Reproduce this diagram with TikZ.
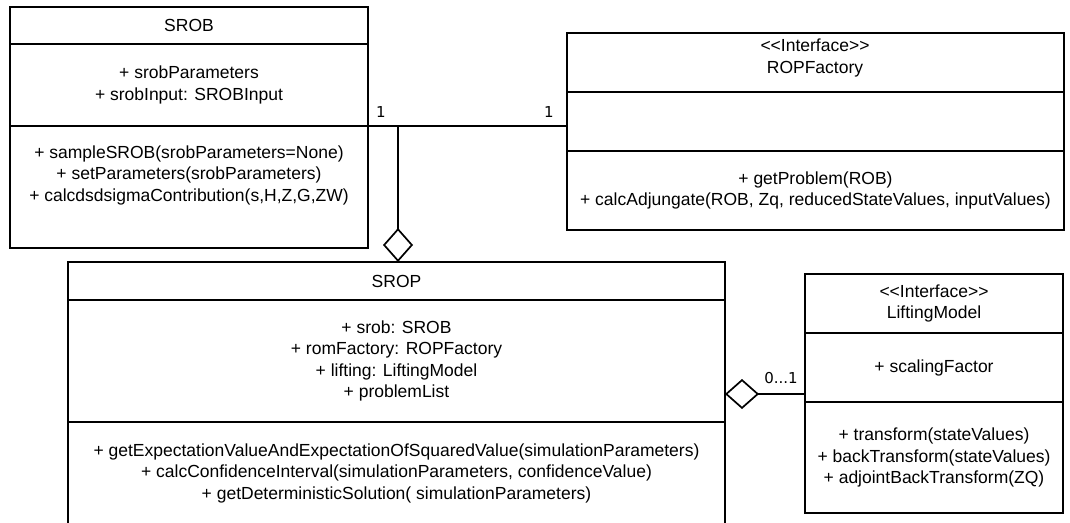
\documentclass[tikz,border=0pt]{standalone}
\usepackage{fontspec}
\setmainfont{Liberation Sans}
\newfontfamily\multfont{DejaVu Sans}
\usetikzlibrary{calc}
\usetikzlibrary{positioning}
\usetikzlibrary{arrows.meta}

\tikzset{
  part/.style={draw, line width=1.7pt, inner sep=0pt, outer sep=0pt,
    minimum height=#1, align=center, font=\fontsize{17.5}{21.5}\selectfont},
  txt/.style={align=center, inner sep=0pt, font=\fontsize{17.5}{21.5}\selectfont},
  mult/.style={inner sep=0pt, font=\multfont\fontsize{15}{17}\selectfont},
  link/.style={line width=1.7pt},
  aggr/.style={line width=1.7pt, -{Diamond[open, length=34pt, width=30pt, line width=1.7pt]}},
}

\begin{document}
\begin{tikzpicture}[x=1pt, y=-1pt]
      \useasboundingbox (0,0) rectangle (1070,522);
      \clip (0,0) rectangle (1070,522);

      % SROB
      \node[part=37pt, minimum width=358pt, anchor=north west] (srobHead) at (10,7) {SROB};
      \node[part=82pt, minimum width=358pt, below=0pt of srobHead] (srobAttr)
        {+ srobParameters\\+ srobInput: SROBInput};
      \node[part=122pt, minimum width=358pt, below=0pt of srobAttr] (srobOps) {};
      \node[txt] (srobOpsTxt) at (189,175)
        {+ sampleSROB(srobParameters=None)\\+ setParameters(srobParameters)\\+ calcdsdsigmaContribution(s,H,Z,G,ZW)};

      % ROPFactory
      \node[part=59pt, minimum width=497pt, anchor=north west] (ropfHead) at (567,33) {};
      \node[txt] (ropfHeadTxt) at (815,58) {{<}{<}Interface{>}{>}\\ROPFactory};
      \node[part=59pt, minimum width=497pt, below=0pt of ropfHead] (ropfAttr) {};
      \node[part=79pt, minimum width=497pt, below=0pt of ropfAttr] (ropfOps)
        {+ getProblem(ROB)\\+ calcAdjungate(ROB, Zq, reducedStateValues, inputValues)};

      % SROP
      \node[part=38pt, minimum width=657pt, anchor=north west] (sropHead) at (68,262) {SROP};
      \node[part=122pt, minimum width=657pt, below=0pt of sropHead] (sropAttr)
        {+ srob: SROB\\+ romFactory: ROPFactory\\+ lifting: LiftingModel\\+ problemList};
      \node[part=102pt, minimum width=657pt, below=0pt of sropAttr] (sropOps)
        {+ getExpectationValueAndExpectationOfSquaredValue(simulationParameters)\\+ calcConfidenceInterval(simulationParameters, confidenceValue)\\+ getDeterministicSolution( simulationParameters)};

      % LiftingModel
      \node[part=59pt, minimum width=258pt, anchor=north west] (liftHead) at (805,274)
        {{<}{<}Interface{>}{>}\\LiftingModel};
      \node[part=69pt, minimum width=258pt, below=0pt of liftHead] (liftAttr) {+ scalingFactor};
      \node[part=111pt, minimum width=258pt, below=0pt of liftAttr] (liftOps)
        {+ transform(stateValues)\\+ backTransform(stateValues)\\+ adjointBackTransform(ZQ)};

      % associations
      \coordinate (srobLink) at ($(srobAttr.south east)+(30,0)$);
      \coordinate (liftLink) at ($(liftAttr.south west)+(0,-8)$);
      \draw[link] (srobAttr.south east) -- (srobAttr.south east -| ropfAttr.west);
      \draw[aggr] (srobLink) -- (srobLink |- sropHead.north);
      \draw[aggr] (liftLink) -- (liftLink -| sropAttr.east);

      \node[mult] (multSrob) at (381,112) {1};
      \node[mult] (multRopf) at (549,112) {1};
      \node[mult] (multLift) at (781,378) {0...1};
\end{tikzpicture}
\end{document}
